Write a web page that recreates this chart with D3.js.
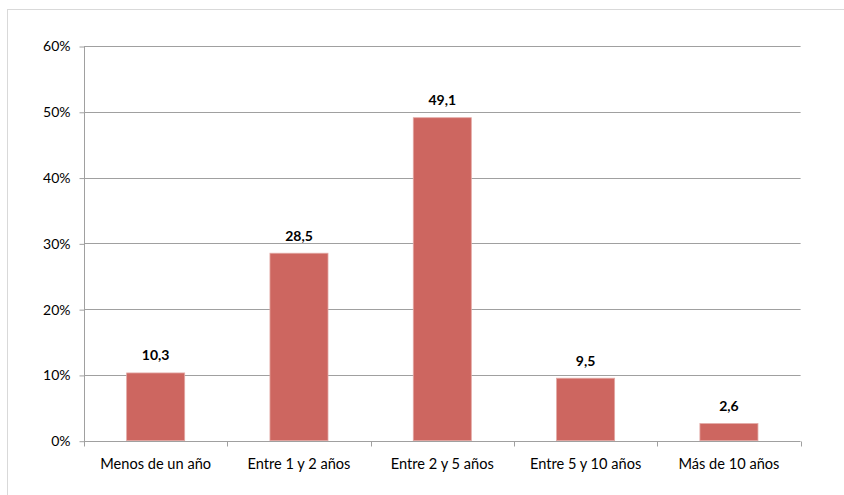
<!DOCTYPE html>
<html>
<head>
<meta charset="utf-8">
<script src="https://cdn.jsdelivr.net/npm/d3@7"></script>
<style>
  html, body { margin: 0; padding: 0; background: #fff; }
  svg { display: block; }
</style>
</head>
<body>
<svg id="chart" width="844" height="495"></svg>
<script>
// Antigüedad: porcentaje por tramo
const categories = ["Menos de un año", "Entre 1 y 2 años", "Entre 2 y 5 años", "Entre 5 y 10 años", "Más de 10 años"];
const values = [10.3, 28.5, 49.1, 9.5, 2.6];
const yTicks = [0, 10, 20, 30, 40, 50, 60];

const svg = d3.select("#chart");
const font = "Lato, 'Open Sans', sans-serif";

// chart frame
svg.append("rect")
  .attr("x", 7.5).attr("y", 9.5)
  .attr("width", 860).attr("height", 500)
  .attr("fill", "none")
  .attr("stroke", "#d9d9d9")
  .attr("stroke-width", 1);

const plot = { left: 84, right: 800.6, top: 46, bottom: 440.7 };

const x = d3.scaleBand()
  .domain(categories)
  .range([plot.left, plot.right])
  .paddingInner(0.595)
  .paddingOuter(0.2975);

const y = d3.scaleLinear()
  .domain([0, 60])
  .range([plot.bottom, plot.top]);

// horizontal gridlines
svg.append("g")
  .selectAll("line")
  .data(yTicks.filter(d => d > 0))
  .join("line")
  .attr("x1", plot.left).attr("x2", plot.right)
  .attr("y1", d => Math.round(y(d)) + 0.5)
  .attr("y2", d => Math.round(y(d)) + 0.5)
  .attr("stroke", "#a0a0a0")
  .attr("stroke-width", 1);

// y axis
const yAxis = d3.axisLeft(y)
  .tickValues(yTicks)
  .tickFormat(d => d + "%")
  .tickSize(5)
  .tickPadding(9);
const gy = svg.append("g")
  .attr("transform", `translate(${plot.left + 0.5},0.5)`)
  .call(yAxis);
gy.select(".domain").attr("stroke", "#a0a0a0").attr("d", `M0,${plot.top}V${plot.bottom}`);
gy.selectAll(".tick line").attr("stroke", "#a0a0a0");
gy.selectAll(".tick text")
  .attr("fill", "#000")
  .style("font-family", font)
  .style("font-size", "14px");

// bars
svg.append("g")
  .selectAll("rect")
  .data(values)
  .join("rect")
  .attr("x", (d, i) => x(categories[i]))
  .attr("y", d => y(d))
  .attr("width", x.bandwidth())
  .attr("height", d => y(0) - y(d))
  .attr("fill", "#cd6660")
  .attr("stroke", "#e3a8a4")
  .attr("stroke-width", 0.8);

// x axis with category boundary ticks
const gx = svg.append("g").attr("transform", `translate(0,${Math.round(plot.bottom) + 0.5})`);
gx.append("line")
  .attr("x1", plot.left).attr("x2", plot.right)
  .attr("stroke", "#a0a0a0");
const step = (plot.right - plot.left) / categories.length;
gx.selectAll("line.tk")
  .data(d3.range(categories.length + 1))
  .join("line")
  .attr("class", "tk")
  .attr("x1", i => Math.round(plot.left + i * step) + 0.5)
  .attr("x2", i => Math.round(plot.left + i * step) + 0.5)
  .attr("y1", 0).attr("y2", 5)
  .attr("stroke", "#a0a0a0");
gx.selectAll("text")
  .data(categories)
  .join("text")
  .attr("x", d => x(d) + x.bandwidth() / 2)
  .attr("y", 27)
  .attr("text-anchor", "middle")
  .attr("fill", "#000")
  .style("font-family", font)
  .style("font-size", "14.6px")
  .text(d => d);

// value labels
svg.append("g")
  .selectAll("text")
  .data(values)
  .join("text")
  .attr("x", (d, i) => x(categories[i]) + x.bandwidth() / 2)
  .attr("y", d => y(d) - 12.5)
  .attr("text-anchor", "middle")
  .attr("fill", "#000")
  .style("font-family", font)
  .style("font-size", "14px")
  .style("font-weight", "bold")
  .text(d => d.toFixed(1).replace(".", ","));
</script>
</body>
</html>
